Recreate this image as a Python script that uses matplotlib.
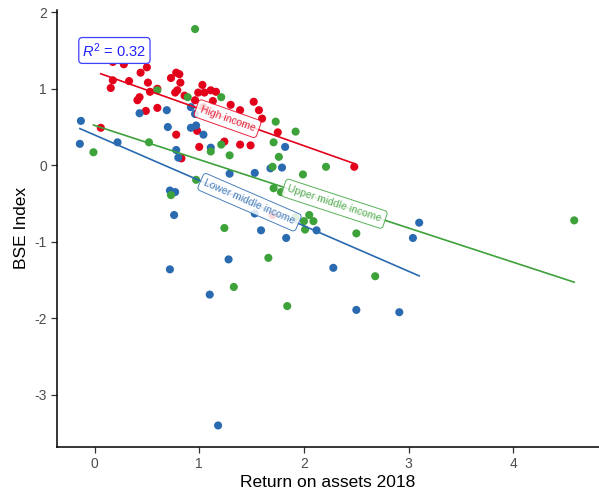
import numpy as np
import matplotlib
matplotlib.use("Agg")
import matplotlib.pyplot as plt

plt.rcParams['font.family'] = ['Liberation Sans', 'DejaVu Sans']
plt.rcParams['axes.unicode_minus'] = False
plt.rcParams['mathtext.fontset'] = 'custom'
plt.rcParams['mathtext.rm'] = 'Liberation Sans'
plt.rcParams['mathtext.it'] = 'Liberation Sans:italic'

# income groups
groups = ["High income", "Lower middle income", "Upper middle income"]
colors = ["#E3001B", "#2A6AB0", "#3DA23A"]

high_x = [0.175, 0.28, 0.50, 0.44, 0.175, 0.33, 0.155, 0.51, 0.60, 0.53,
          0.73, 0.78, 0.81, 0.82, 0.79, 0.77, 0.86, 0.43, 0.41, 0.49,
          0.60, 1.03, 1.11, 1.16, 0.99, 1.05, 0.96, 1.30, 1.39, 1.52,
          1.57, 1.60, 1.75, 0.78, 1.00, 1.24, 1.39, 1.49, 0.83, 0.06,
          2.48, 0.98, 1.70, 1.04, 1.13]
high_y = [1.35, 1.32, 1.28, 1.21, 1.11, 1.10, 1.01, 1.08, 1.00, 0.96,
          1.14, 1.21, 1.19, 1.08, 0.98, 0.95, 0.91, 0.89, 0.85, 0.71,
          0.75, 1.05, 0.98, 0.96, 0.95, 0.95, 0.85, 0.79, 0.72, 0.83,
          0.72, 0.61, 0.43, 0.40, 0.24, 0.31, 0.27, 0.26, 0.09, 0.49,
          -0.02, 0.45, -0.65, 0.76, 0.84]

lower_x = [-0.13, -0.14, 0.22, 0.43, 0.69, 0.70, 0.92, 0.96, 0.92, 0.97,
           1.04, 0.78, 0.80, 1.11, 1.82, 1.79, 1.29, 1.53, 1.68, 0.72,
           0.77, 0.76, 1.53, 1.59, 1.83, 2.12, 1.28, 0.72, 1.10, 2.28,
           2.50, 2.91, 3.10, 3.04, 1.18]
lower_y = [0.58, 0.28, 0.30, 0.68, 0.72, 0.50, 0.76, 0.67, 0.49, 0.52,
           0.40, 0.20, 0.10, 0.23, 0.24, -0.03, -0.11, -0.10, -0.04, -0.33,
           -0.35, -0.65, -0.63, -0.85, -0.95, -0.85, -1.23, -1.36, -1.69, -1.34,
           -1.89, -1.92, -0.75, -0.95, -3.40]

upper_x = [0.96, 0.60, 0.89, 1.21, 1.73, 1.92, 1.71, 0.52, -0.01, 1.11,
           1.29, 1.21, 1.76, 1.70, 1.99, 2.21, 0.73, 0.97, 1.71, 1.78,
           2.05, 2.00, 2.09, 2.01, 2.50, 1.24, 1.66, 1.33, 1.84, 2.68,
           4.58, 1.92]
upper_y = [1.78, 0.98, 0.89, 0.89, 0.57, 0.44, 0.30, 0.30, 0.17, 0.18,
           0.13, 0.27, 0.11, -0.02, -0.12, -0.02, -0.39, -0.19, -0.30, -0.35,
           -0.65, -0.73, -0.73, -0.84, -0.89, -0.82, -1.21, -1.59, -1.84, -1.45,
           -0.72, -0.68]

xs = [high_x, lower_x, upper_x]
ys = [high_y, lower_y, upper_y]
label_x = [1.27, 1.48, 2.29]

r2_text = "$R^2$ = 0.32"

fig = plt.figure(figsize=(5.99, 4.96), dpi=100)
ax = fig.add_axes([0.0957, 0.099, 0.904, 0.881])
ax.set_xlim(-0.355, 4.815)
ax.set_ylim(-3.68, 2.03)

fits = []
for gx, gy, col in zip(xs, ys, colors):
    gx = np.array(gx)
    gy = np.array(gy)
    ax.scatter(gx, gy, s=34, color=col, edgecolors='none', zorder=3)
    slope, icpt = np.polyfit(gx, gy, 1)
    fits.append((slope, icpt))
    lx = np.array([gx.min(), gx.max()])
    ax.plot(lx, icpt + slope * lx, color=col, lw=1.2, zorder=4)

fig.canvas.draw()
for name, col, (slope, icpt), lx in zip(groups, colors, fits, label_x):
    ly = icpt + slope * lx
    p1 = ax.transData.transform((lx, ly))
    p2 = ax.transData.transform((lx + 1, ly + slope))
    ang = np.degrees(np.arctan2(p2[1] - p1[1], p2[0] - p1[0]))
    ax.text(lx, ly, name, color=col, alpha=0.85, fontsize=7.5, rotation=ang,
            rotation_mode='anchor', ha='center', va='center', zorder=6,
            bbox=dict(boxstyle='round,pad=0.4,rounding_size=0.3',
                      fc='white', ec=col, lw=0.7, alpha=0.85))

ax.text(0.19, 1.50, r2_text, color='#2020FF', fontsize=10.5, ha='center',
        va='center', zorder=6,
        bbox=dict(boxstyle='round,pad=0.25,rounding_size=0.25',
                  fc='white', ec='#4040FF', lw=0.9))

for s in ['top', 'right']:
    ax.spines[s].set_visible(False)
for s in ['left', 'bottom']:
    ax.spines[s].set_linewidth(1.1)
ax.set_xticks([0, 1, 2, 3, 4])
ax.set_yticks([-3, -2, -1, 0, 1, 2])
ax.tick_params(labelsize=10, labelcolor='#4D4D4D', color='#333333',
               length=4, width=0.9)
ax.set_xlabel("Return on assets 2018", fontsize=12.5, labelpad=3)
ax.set_ylabel("BSE Index", fontsize=12.5, labelpad=4)

fig.savefig("out.png", dpi=100)
